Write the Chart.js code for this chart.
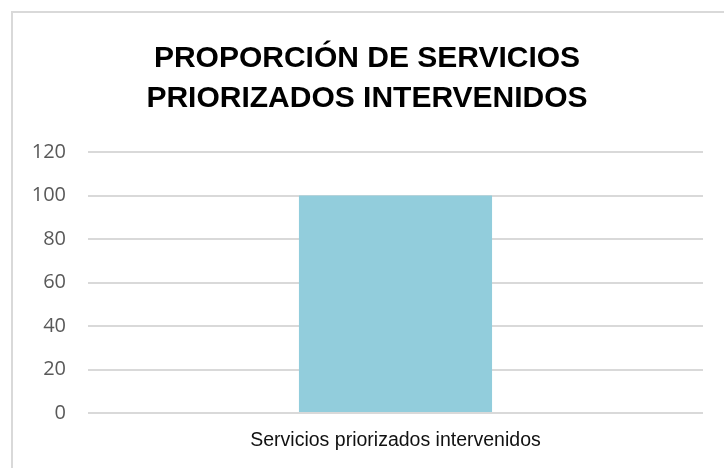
<!DOCTYPE html>
<html>
<head>
<meta charset="utf-8">
<script src="https://cdn.jsdelivr.net/npm/chart.js@4/dist/chart.umd.min.js"></script>
<style>
  html, body { margin: 0; padding: 0; background: #ffffff; }
  #wrap { position: relative; width: 724px; height: 468px; overflow: hidden; }
  #frame { position: absolute; left: 11px; top: 11px; width: 740px; height: 480px;
           border: 2px solid #d9d9d9; box-sizing: border-box; pointer-events: none; }
  canvas { position: absolute; left: 0; top: 0; }
</style>
</head>
<body>
<div id="wrap">
  <div id="frame"></div>
  <canvas id="c" width="724" height="468"></canvas>
</div>
<script>
const titleLines = ["PROPORCIÓN DE SERVICIOS", "PRIORIZADOS INTERVENIDOS"];
const categories = ["Servicios priorizados intervenidos"];
const values = [100];
const yTicks = [0, 20, 40, 60, 80, 100, 120];

new Chart(document.getElementById('c'), {
  type: 'bar',
  data: {
    labels: categories,
    datasets: [{
      data: values,
      backgroundColor: '#92CDDC',
      borderWidth: 0,
      categoryPercentage: 1.0,
      barPercentage: 0.314
    }]
  },
  options: {
    responsive: false,
    animation: false,
    devicePixelRatio: 1,
    layout: { padding: { left: 31, right: 21, top: 38, bottom: 15 } },
    plugins: {
      legend: { display: false },
      tooltip: { enabled: false },
      title: {
        display: true,
        text: titleLines,
        color: '#000000',
        font: { family: "'Liberation Sans', Arial, sans-serif", size: 30, weight: 'bold', lineHeight: 1.35 },
        padding: { top: 0, bottom: 33 }
      }
    },
    scales: {
      x: {
        grid: { display: false, drawTicks: false },
        border: { display: false },
        afterFit: (axis) => { axis.height = 40; },
        ticks: {
          color: '#111111',
          padding: 16,
          font: { family: "'Liberation Sans', Arial, sans-serif", size: 19.5 }
        }
      },
      y: {
        min: yTicks[0],
        max: yTicks[yTicks.length - 1],
        afterBuildTicks: (axis) => { axis.ticks = yTicks.map(v => ({ value: v })); },
        afterFit: (axis) => { axis.width = 57; },
        grid: { color: '#d9d9d9', lineWidth: 2, drawTicks: false },
        border: { display: false },
        ticks: {
          color: '#595959',
          padding: 22,
          font: { family: "'Open Sans', sans-serif", size: 20 }
        }
      }
    }
  }
});
</script>
</body>
</html>
